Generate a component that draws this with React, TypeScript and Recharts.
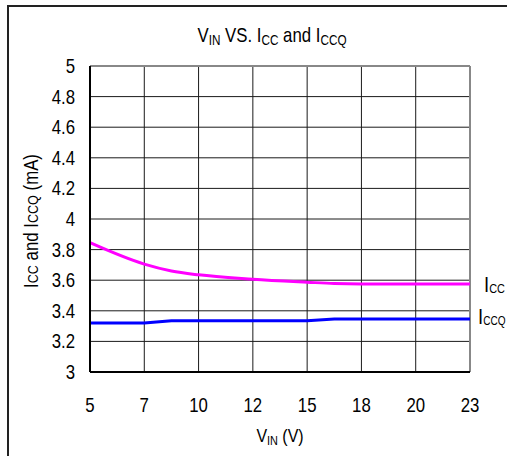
import React from 'react';
import {
    LineChart,
    Line,
    XAxis,
    YAxis,
    CartesianGrid,
    ReferenceLine,
} from 'recharts';

// Tick labels on the x axis (V_IN, volts) – evenly spaced on the chart
const vinTicks = [5, 7, 10, 12, 15, 18, 20, 23];
const yTicks = [3, 3.2, 3.4, 3.6, 3.8, 4, 4.2, 4.4, 4.6, 4.8, 5];

// I_CC (mA) vs V_IN
const iccVin = [5, 7, 8.5, 10, 12, 15, 16.5, 18, 20, 23];
const iccValues = [3.845, 3.705, 3.66, 3.635, 3.607, 3.587, 3.578, 3.575, 3.575, 3.575];

// I_CCQ (mA) vs V_IN
const iccqVin = [5, 7, 8.5, 10, 12, 15, 16.5, 18, 20, 23];
const iccqValues = [3.32, 3.32, 3.335, 3.335, 3.335, 3.335, 3.346, 3.346, 3.346, 3.346];

const FONT = "'Liberation Sans', Arial, Helvetica, sans-serif";
const NARROW = 0.84; // horizontal squeeze, Helvetica-Narrow look

// the axis is piecewise: each labelled voltage sits on its own gridline
const vinToPos = (v: number) => {
    for (let i = 0; i < vinTicks.length - 1; i++) {
        const a = vinTicks[i];
        const b = vinTicks[i + 1];
        if (v >= a && v <= b) return i + (v - a) / (b - a);
    }
    return vinTicks.length - 1;
};

const iccData = iccVin.map((v, i) => ({ x: vinToPos(v), y: iccValues[i] }));
const iccqData = iccqVin.map((v, i) => ({ x: vinToPos(v), y: iccqValues[i] }));

// condensed text drawn at (x, y)
const Narrow = ({ x, y, anchor = 'start', size = 19, rotate = 0, children }: any) => (
    <text
        transform={`translate(${x}, ${y}) rotate(${rotate}) scale(${NARROW}, 1)`}
        textAnchor={anchor}
        fontFamily={FONT}
        fontSize={size}
        fill="#000"
    >
        {children}
    </text>
);

const XTick = (props: any) => {
    const { x, y, payload } = props;
    return <Narrow x={x} y={y + 20} anchor="middle" size={20}>{vinTicks[payload.value]}</Narrow>;
};

const YTick = (props: any) => {
    const { x, y, payload } = props;
    return <Narrow x={x} y={y + 7} anchor="end" size={20}>{String(Number(payload.value.toFixed(1)))}</Narrow>;
};

// end-of-line label with a subscript
const endLabel = (sub: string, subSize: number, dx: number, dy: number, count: number) =>
    (props: any) => {
        const { x, y, index } = props;
        if (index !== count - 1) return null;
        return (
            <Narrow x={x + dx} y={y + dy} size={22}>
                I<tspan fontSize={subSize} dy={1}>{sub}</tspan>
            </Narrow>
        );
    };

const App: React.FC = () => {
    return (
        <div style={{ position: 'absolute', left: 0, top: 0, width: 507, height: 456, background: '#fff' }}>
            {/* outer frame (top and left edges only) */}
            <div
                style={{
                    position: 'absolute',
                    left: 7,
                    top: 5,
                    width: 500,
                    height: 451,
                    borderTop: '2px solid #222',
                    borderLeft: '2px solid #222',
                    boxSizing: 'border-box',
                }}
            />
            <LineChart
                width={507}
                height={456}
                margin={{ top: 66, right: 37, bottom: 54, left: 40 }}
                style={{ position: 'absolute', left: 0, top: 0 }}
            >
                <CartesianGrid stroke="#1a1a1a" strokeWidth={1} />
                <XAxis
                    type="number"
                    dataKey="x"
                    domain={[0, vinTicks.length - 1]}
                    ticks={vinTicks.map((_, i) => i)}
                    axisLine={{ stroke: '#000', strokeWidth: 2 }}
                    tickLine={false}
                    tickSize={0}
                    tickMargin={20}
                    height={30}
                    tick={<XTick />}
                    allowDuplicatedCategory={false}
                />
                <YAxis
                    type="number"
                    domain={[3, 5]}
                    ticks={yTicks}
                    interval={0}
                    axisLine={{ stroke: '#000', strokeWidth: 2 }}
                    tickLine={false}
                    tickSize={0}
                    tickMargin={15}
                    width={50}
                    tick={<YTick />}
                />
                <ReferenceLine y={5} stroke="#888" strokeWidth={2} />
                <ReferenceLine x={vinTicks.length - 1} stroke="#888" strokeWidth={2} />
                <Line
                    data={iccData}
                    dataKey="y"
                    type="monotone"
                    stroke="#ff00ff"
                    strokeWidth={3}
                    dot={false}
                    isAnimationActive={false}
                    label={endLabel('CC', 13, 14, 8, iccData.length)}
                />
                <Line
                    data={iccqData}
                    dataKey="y"
                    type="linear"
                    stroke="#0000ff"
                    strokeWidth={3}
                    dot={false}
                    isAnimationActive={false}
                    label={endLabel('CCQ', 12, 8, 5, iccqData.length)}
                />
                {/* title */}
                <Narrow x={272} y={42} anchor="middle" size={20}>
                    V<tspan fontSize={14} dy={3}>IN</tspan>
                    <tspan dy={-3}> VS. I</tspan>
                    <tspan fontSize={14} dy={3}>CC</tspan>
                    <tspan dy={-3}> and I</tspan>
                    <tspan fontSize={14} dy={3}>CCQ</tspan>
                </Narrow>
                {/* x axis title */}
                <Narrow x={280} y={442} anchor="middle">
                    V<tspan fontSize={13} dy={3}>IN</tspan>
                    <tspan dy={-3}> (V)</tspan>
                </Narrow>
                {/* y axis title */}
                <Narrow x={38} y={221} anchor="middle" rotate={-90} size={20}>
                    I<tspan fontSize={15}>CC</tspan> and I<tspan fontSize={15}>CCQ</tspan> (mA)
                </Narrow>
            </LineChart>
        </div>
    );
};

export default App;
